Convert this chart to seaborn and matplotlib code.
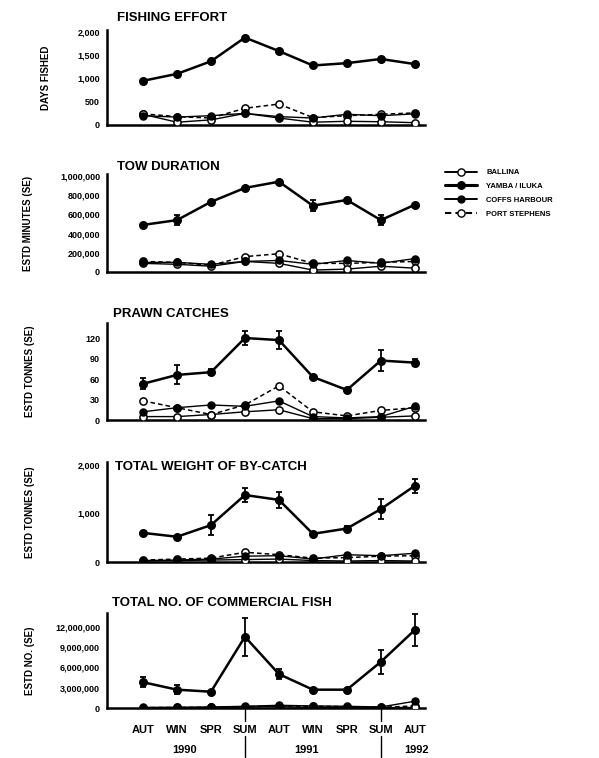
import numpy as np
import pandas as pd
import matplotlib
matplotlib.use("Agg")
import matplotlib.pyplot as plt
from matplotlib.lines import Line2D
from matplotlib.ticker import FuncFormatter
import seaborn as sns

# Seasons sampled (autumn 1990 to autumn 1992)
seasons = ["AUT", "WIN", "SPR", "SUM", "AUT", "WIN", "SPR", "SUM", "AUT"]
years = ["1990", "1991", "1992"]
sites = ["BALLINA", "YAMBA / ILUKA", "COFFS HARBOUR", "PORT STEPHENS"]

# Fishing effort (days fished)
effort_ballina = [230, 60, 110, 250, 150, 60, 80, 70, 50]
effort_yamba = [950, 1100, 1370, 1880, 1590, 1280, 1330, 1420, 1310]
effort_coffs = [200, 170, 200, 250, 180, 150, 230, 200, 240]
effort_port = [240, 180, 150, 360, 450, 160, 200, 230, 260]

# Tow duration (estimated minutes)
tow_ballina = [90000, 80000, 60000, 110000, 90000, 20000, 30000, 60000, 40000]
tow_yamba = [490000, 540000, 730000, 875000, 940000, 690000, 750000, 540000, 700000]
tow_yamba_se = [0, 50000, 0, 0, 0, 60000, 0, 50000, 0]
tow_coffs = [100000, 100000, 80000, 110000, 120000, 80000, 120000, 90000, 140000]
tow_port = [110000, 100000, 70000, 160000, 190000, 90000, 90000, 100000, 110000]

# Prawn catches (estimated tonnes)
prawn_ballina = [5, 5, 8, 12, 15, 2, 2, 4, 6]
prawn_yamba = [53, 66, 70, 120, 117, 63, 44, 87, 84]
prawn_yamba_se = [8, 14, 4, 10, 13, 0, 0, 15, 5]
prawn_coffs = [12, 18, 22, 20, 28, 5, 3, 5, 20]
prawn_port = [28, 18, 8, 22, 50, 12, 6, 14, 18]

# Total weight of by-catch (estimated tonnes)
by_ballina = [20, 30, 40, 50, 60, 30, 20, 30, 20]
by_yamba = [600, 520, 760, 1380, 1280, 580, 690, 1090, 1570]
by_yamba_se = [0, 0, 200, 140, 170, 0, 50, 210, 150]
by_coffs = [30, 40, 60, 120, 130, 60, 150, 130, 180]
by_port = [40, 60, 80, 200, 150, 80, 90, 120, 130]

# Total number of commercial fish (estimated number)
fish_ballina = [50000, 60000, 80000, 150000, 200000, 80000, 80000, 60000, 80000]
fish_yamba = [3800000, 2700000, 2400000, 10500000, 5000000, 2700000, 2700000, 6800000, 11500000]
fish_yamba_se = [700000, 700000, 0, 2800000, 700000, 0, 0, 1800000, 2300000]
fish_coffs = [80000, 100000, 150000, 250000, 400000, 300000, 250000, 150000, 1000000]
fish_port = [60000, 80000, 100000, 200000, 300000, 250000, 200000, 100000, 300000]

sns.set_style("white")
plt.rcParams["font.family"] = ["Liberation Sans", "DejaVu Sans"]
plt.rcParams["font.weight"] = "bold"
plt.rcParams["text.color"] = "black"
plt.rcParams["xtick.color"] = "black"
plt.rcParams["ytick.color"] = "black"
plt.rcParams["axes.labelcolor"] = "black"

W, H = 599, 758
fig = plt.figure(figsize=(W / 100, H / 100), dpi=100)

X_LEFT, X_RIGHT = 107, 425
XLIM = (-1.06, 8.3)

series_style = {
    "BALLINA": dict(linestyle="-", lw=1.0, mfc="white", ms=5.2),
    "YAMBA / ILUKA": dict(linestyle="-", lw=1.8, mfc="black", ms=5.4),
    "COFFS HARBOUR": dict(linestyle="-", lw=1.0, mfc="black", ms=5.0),
    "PORT STEPHENS": dict(linestyle=(0, (3, 2)), lw=1.1, mfc="white", ms=5.2),
}


def make_axes(top_px, bottom_px):
    return fig.add_axes([X_LEFT / W, 1 - bottom_px / H,
                         (X_RIGHT - X_LEFT) / W, (bottom_px - top_px) / H])


def draw_panel(ax, values, se, ymax_lim, yticks, title, ylabel, title_xy, ylabel_x,
               fmt="{:,.0f}"):
    x = np.arange(len(seasons))
    order = [3, 0, 2, 1]  # draw Yamba on top
    for i in order:
        st = series_style[sites[i]]
        sns.lineplot(x=x, y=values[i], ax=ax, color="black", marker="o",
                     markersize=st["ms"], markerfacecolor=st["mfc"],
                     markeredgecolor="black", markeredgewidth=1.1,
                     linewidth=st["lw"], linestyle=st["linestyle"],
                     zorder=3 + (i == 1), legend=False)
    se = np.asarray(se, dtype=float)
    keep = se > 0
    yv = np.asarray(values[1], dtype=float)
    ax.errorbar(x[keep], yv[keep], yerr=se[keep], fmt="none", ecolor="black",
                elinewidth=1.3, capsize=2.5, capthick=1.3, zorder=5)
    ax.set_xlim(*XLIM)
    ax.set_ylim(0, ymax_lim)
    ax.set_yticks(yticks)
    ax.yaxis.set_major_formatter(FuncFormatter(lambda v, p: fmt.format(v)))
    ax.set_xticks(x)
    ax.set_xticklabels([])
    for s in ["top", "right"]:
        ax.spines[s].set_visible(False)
    for s in ["left", "bottom"]:
        ax.spines[s].set_linewidth(1.8)
        ax.spines[s].set_color("black")
    ax.tick_params(axis="y", direction="out", length=3, width=1.4, labelsize=6.5,
                   pad=2, colors="black")
    ax.tick_params(axis="x", direction="out", length=3, width=1.0, colors="black")
    for lab in ax.get_yticklabels():
        lab.set_fontweight("bold")
    ax.set_xlabel("")
    ax.set_ylabel("")
    fig.text(title_xy[0] / W, 1 - title_xy[1] / H, title, fontsize=9.5,
             fontweight="bold", ha="left", va="center", color="black")
    pos = ax.get_position()
    fig.text(ylabel_x / W, (pos.y0 + pos.y1) / 2, ylabel, rotation=90,
             fontsize=7, fontweight="bold", ha="center", va="center", color="black")


ax1 = make_axes(30, 125)
draw_panel(ax1, [effort_ballina, effort_yamba, effort_coffs, effort_port],
           [0] * 9, 2043, [0, 500, 1000, 1500, 2000], "FISHING EFFORT",
           "DAYS FISHED", (117, 18), 46)

ax2 = make_axes(174, 272)
draw_panel(ax2, [tow_ballina, tow_yamba, tow_coffs, tow_port],
           tow_yamba_se, 1020000, [0, 200000, 400000, 600000, 800000, 1000000],
           "TOW DURATION", "ESTD MINUTES (SE)", (117, 167), 28)

ax3 = make_axes(323, 420)
draw_panel(ax3, [prawn_ballina, prawn_yamba, prawn_coffs, prawn_port],
           prawn_yamba_se, 142, [0, 30, 60, 90, 120], "PRAWN CATCHES",
           "ESTD TONNES (SE)", (113, 314), 30)

ax4 = make_axes(462, 562)
draw_panel(ax4, [by_ballina, by_yamba, by_coffs, by_port],
           by_yamba_se, 2060, [0, 1000, 2000], "TOTAL WEIGHT OF BY-CATCH",
           "ESTD TONNES (SE)", (115, 467), 30)
ax4.set_yticks([500, 1500], minor=True)
ax4.tick_params(axis="y", which="minor", length=2, width=1.0)

ax5 = make_axes(613, 708)
draw_panel(ax5, [fish_ballina, fish_yamba, fish_coffs, fish_port],
           fish_yamba_se, 14000000, [0, 3000000, 6000000, 9000000, 12000000],
           "TOTAL NO. OF COMMERCIAL FISH", "ESTD NO. (SE)", (112, 603), 30)

# Season and year labels under the bottom panel
ax5.set_xticklabels(seasons, fontsize=8, fontweight="bold")
ax5.tick_params(axis="x", pad=9)
for lab, xpx in zip(years, [185, 307, 417]):
    fig.text(xpx / W, 1 - 750 / H, lab, fontsize=8, fontweight="bold",
             ha="center", va="center", color="black")

# Year separators at each summer
for idx in [3, 7]:
    xd = ax5.transData.transform((idx, 0))[0] / W
    for y0, y1 in [(708, 721), (736, 757)]:
        fig.add_artist(Line2D([xd, xd], [1 - y0 / H, 1 - y1 / H],
                              color="black", lw=1.0, transform=fig.transFigure))

# Legend
handles = []
for name in sites:
    st = series_style[name]
    handles.append(Line2D([], [], color="black", marker="o", markersize=st["ms"],
                          markerfacecolor=st["mfc"], markeredgecolor="black",
                          linewidth=st["lw"] + 0.4, linestyle=st["linestyle"]))
fig.legend(handles, sites, loc="upper left", bbox_to_anchor=(438 / W, 1 - 162 / H),
           frameon=False, handlelength=4.2, handletextpad=1.2,
           labelspacing=0.85, prop={"weight": "bold", "size": 5.5})

fig.savefig("out.png", dpi=100)
